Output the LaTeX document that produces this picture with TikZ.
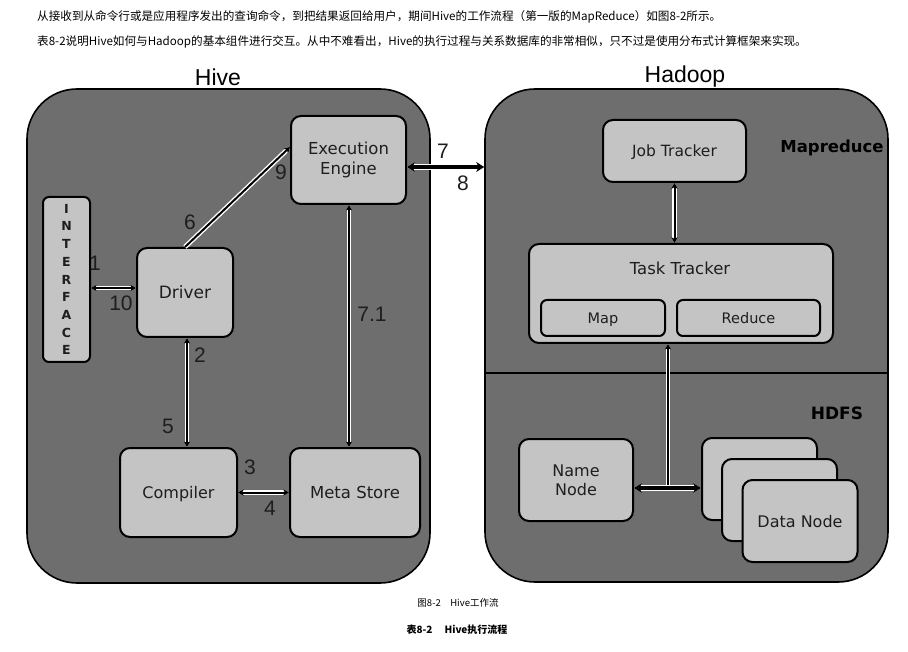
\documentclass[tikz,border=0pt]{standalone}
\usepackage{fontspec}
\setmainfont{Liberation Serif}
\newfontfamily\cjk{Noto Sans CJK SC}
\newfontfamily\dv{DejaVu Sans}
\newfontfamily\ar{Liberation Sans}
\usetikzlibrary{arrows.meta,calc}
\definecolor{outerg}{HTML}{6E6E6E}
\definecolor{boxg}{HTML}{C4C4C4}
\definecolor{txt}{HTML}{1E1E1E}
\tikzset{
  outerbox/.style={draw=black, line width=1.6pt, fill=outerg, rounded corners=50pt, inner sep=0pt},
  compbox/.style={draw=black, line width=2pt, fill=boxg, rounded corners=10pt, inner sep=0pt,
    text=txt, align=center, font=\dv\fontsize{16}{19}\selectfont},
  strutted/.style={text height=14.5pt, text depth=2.5pt},
  smallbox/.style={compbox, strutted, rounded corners=6pt, font=\dv\fontsize{14.5}{17}\selectfont},
  numtxt/.style={text=txt, font=\ar\fontsize{21}{21}\selectfont, inner sep=0pt},
  bigtitle/.style={text=black, font=\ar\fontsize{23}{23}\selectfont, inner sep=0pt},
  secttext/.style={text=black, font=\dv\bfseries\fontsize{16.5}{17}\selectfont, inner sep=0pt},
  captext/.style={text=black, anchor=west, inner sep=0pt, font=\cjk\fontsize{11.6}{12}\selectfont},
  thinarr/.style={line width=2pt, black,
    {Stealth[length=6pt,width=7pt]}-{Stealth[length=6pt,width=7pt]},
    preaction={draw=white, line width=4.8pt, {Stealth[length=6pt,width=7pt]}-{Stealth[length=6pt,width=7pt]}}},
  thinup/.style={line width=2pt, black, -{Stealth[length=6pt,width=7pt]},
    preaction={draw=white, line width=4.8pt, -{Stealth[length=6pt,width=7pt]}}},
  thickarr/.style={line width=3.5pt, black,
    {Stealth[length=8pt,width=10pt]}-{Stealth[length=8pt,width=10pt]},
    preaction={draw=white, line width=6.5pt, {Stealth[length=8pt,width=10pt]}-{Stealth[length=8pt,width=10pt]}}}
}
\begin{document}
\begin{tikzpicture}[x=1pt,y=-1pt]
\useasboundingbox (0,0) rectangle (908,652);
\fill[white] (0,0) rectangle (908,652);

% captions
\node[captext] (c1) at (37,17) {从接收到从命令行或是应用程序发出的查询命令，到把结果返回给用户，期间Hive的工作流程（第一版的MapReduce）如图8-2所示。};
\node[captext] (c2) at (37,42) {表8-2说明Hive如何与Hadoop的基本组件进行交互。从中不难看出，Hive的执行过程与关系数据库的非常相似，只不过是使用分布式计算框架来实现。};
\node[text=black, inner sep=0pt, font=\cjk\fontsize{9.5}{10}\selectfont] (fig) at (458,603) {图8-2\hspace{1em}Hive工作流};
\node[text=black, inner sep=0pt, font=\cjk\bfseries\fontsize{10}{10}\selectfont] (tab) at (457,630) {表8-2\hspace{1.2em}Hive执行流程};

% outer containers
\node[outerbox, minimum width=403, minimum height=494] (hive) at (228.5,336) {};
\node[outerbox, minimum width=403, minimum height=493] (hadoop) at (686.5,335.5) {};
\draw[line width=1.6pt] (hadoop.west |- 0,373) -- (hadoop.east |- 0,373);
\node[bigtitle] (hivet) at (218,77) {Hive};
\node[bigtitle] (hadoopt) at (685,77) {Hadoop};

% Hive components
\node[compbox, minimum width=115, minimum height=88, font=\dv\fontsize{16.5}{20}\selectfont] (exec) at (348.5,160) {Execution\\Engine};
\node[compbox, minimum width=47, minimum height=165, rounded corners=6pt,
      font=\dv\bfseries\fontsize{12.5}{17.7}\selectfont] (iface) at (66.5,279.5) {I\\N\\T\\E\\R\\F\\A\\C\\E};
\node[compbox, strutted, minimum width=96, minimum height=89, font=\dv\fontsize{17}{19}\selectfont] (driver) at (185,292.5) {Driver};
\node[compbox, strutted, minimum width=117, minimum height=89] (comp) at (178.5,492.5) {Compiler};
\node[compbox, strutted, minimum width=130, minimum height=89, font=\dv\fontsize{16.5}{19}\selectfont] (meta) at (355,492.5) {Meta Store};

% Hadoop components
\node[compbox, strutted, minimum width=143, minimum height=62, font=\dv\fontsize{15.5}{19}\selectfont] (job) at (674.5,151) {Job Tracker};
\node[compbox, minimum width=304, minimum height=99] (tt) at (681,293.5) {};
\node[text=txt, inner sep=0pt, font=\dv\fontsize{16.5}{19}\selectfont] (ttl) at (680,268) {Task Tracker};
\node[smallbox, minimum width=124, minimum height=36] (map) at (603,318) {Map};
\node[smallbox, minimum width=143, minimum height=36] (red) at (748.5,318) {Reduce};
\node[secttext] (mr) at (832,148) {Mapreduce};
\node[secttext, font=\dv\bfseries\fontsize{17}{17}\selectfont] (hdfs) at (837,413) {HDFS};
\node[compbox, minimum width=114, minimum height=82] (nn) at (576,480) {Name\\Node};
\node[compbox, minimum width=115, minimum height=82] (dn1) at (759.5,479) {};
\node[compbox, minimum width=115, minimum height=82] (dn2) at (779.5,500) {};
\node[compbox, strutted, minimum width=115, minimum height=82] (dn3) at (800,521) {Data Node};

% connectors
\coordinate (j) at (668,488);
\coordinate (hdfstop) at (668,373);
\draw[thinarr] (iface.east |- 0,288) -- (driver.west |- 0,288);
\draw[thinarr] (187,0 |- driver.south) -- (187,0 |- comp.north);
\draw[thinup] (driver.north) -- ($(exec.west)+(0,-13)$);
\draw[thinarr] (349,0 |- exec.south) -- (349,0 |- meta.north);
\draw[thinarr] (comp.east) -- (meta.west);
\draw[thickarr] (exec.east |- 0,167) -- (hadoop.west |- 0,167);
\draw[thinarr] (job.south) -- (job.south |- tt.north);
\draw[line width=2pt, preaction={draw=white, line width=4.8pt}] (j) -- (hdfstop);
\draw[thinup] (hdfstop) -- (hdfstop |- tt.south);
\draw[thickarr] (nn.east |- j) -- (dn1.west |- j);

% step numbers
\node[numtxt] (n1) at (95,263) {1};
\node[numtxt] (n10) at (121,303) {10};
\node[numtxt] (n6) at (190,222) {6};
\node[numtxt] (n9) at (281,172) {9};
\node[numtxt] (n7) at (443,151) {7};
\node[numtxt] (n8) at (463,183) {8};
\node[numtxt] (n2) at (200,355) {2};
\node[numtxt] (n5) at (168,426) {5};
\node[numtxt] (n3) at (250,467) {3};
\node[numtxt] (n4) at (270,508) {4};
\node[numtxt] (n71) at (372,314) {7.1};
\end{tikzpicture}
\end{document}
